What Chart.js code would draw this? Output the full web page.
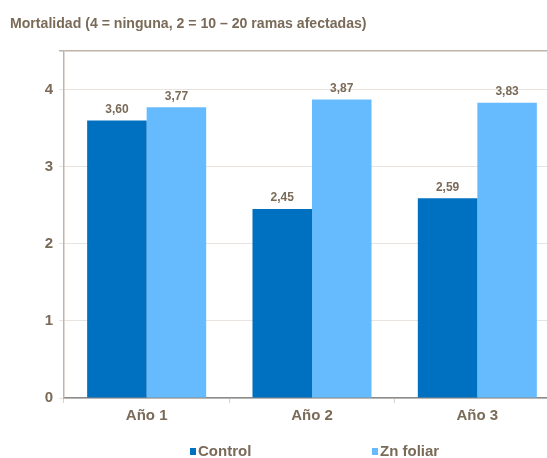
<!DOCTYPE html>
<html><head><meta charset="utf-8">
<script src="https://cdn.jsdelivr.net/npm/chart.js@4"></script>
<style>
html,body{margin:0;padding:0;background:#fff;overflow:hidden;width:547px;height:458px}
#wrap{position:absolute;left:0;top:0;width:560px;height:458px}
</style></head><body>
<div id="wrap"><canvas id="c" width="560" height="458"></canvas></div>
<script>
const title = 'Mortalidad (4 = ninguna, 2 = 10 – 20 ramas afectadas)';
const categories = ['Año 1', 'Año 2', 'Año 3'];
const seriesNames = ['Control', 'Zn foliar'];
const controlValues = [3.60, 2.45, 2.59];
const znValues = [3.77, 3.87, 3.83];
const yTicks = [0, 1, 2, 3, 4];

const FONT = '"Liberation Sans Narrow", "Arial Narrow", "Liberation Sans", Arial, sans-serif';
const TXT = '#7a6a58';
const colors = ['#0070c0', '#66bbff'];

const extras = {
  id: 'extras',
  afterDatasetsDraw(chart) {
    const ctx = chart.ctx;
    ctx.save();
    ctx.fillStyle = TXT;
    ctx.font = 'bold 12px ' + FONT;
    ctx.textAlign = 'center';
    ctx.textBaseline = 'bottom';
    chart.data.datasets.forEach((ds, i) => {
      chart.getDatasetMeta(i).data.forEach((bar, j) => {
        ctx.fillText(ds.data[j].toFixed(2).replace('.', ','), bar.x, bar.y - 5);
      });
    });
    // title (slightly condensed)
    ctx.save();
    ctx.font = 'bold 15px ' + FONT;
    ctx.textAlign = 'left';
    ctx.textBaseline = 'middle';
    ctx.translate(10, 24);
    ctx.scale(0.94, 1);
    ctx.fillText(title, 0, 0);
    ctx.restore();
    // legend
    ctx.font = 'bold 15px ' + FONT;
    ctx.textAlign = 'left';
    const lx = [190, 372];
    seriesNames.forEach((n, i) => {
      ctx.fillStyle = colors[i];
      ctx.fillRect(lx[i], 448, 6, 7);
      ctx.fillStyle = TXT;
      ctx.textBaseline = 'middle';
      ctx.fillText(n, lx[i] + 8, 452);
    });
    ctx.restore();
  }
};

new Chart(document.getElementById('c'), {
  type: 'bar',
  data: {
    labels: categories,
    datasets: [
      { label: seriesNames[0], data: controlValues, backgroundColor: colors[0] },
      { label: seriesNames[1], data: znValues, backgroundColor: colors[1] }
    ]
  },
  options: {
    responsive: false,
    animation: false,
    devicePixelRatio: 1,
    layout: { padding: { top: 51, left: 0, right: 0, bottom: 20 } },
    plugins: { legend: { display: false }, title: { display: false }, tooltip: { enabled: false } },
    datasets: { bar: { categoryPercentage: 0.72, barPercentage: 1.0 } },
    scales: {
      x: {
        offset: true,
        grid: { offset: true, drawOnChartArea: false, color: '#d8d2cb', tickLength: 5 },
        border: { color: '#8a8a8a', width: 1.5 },
        ticks: { color: TXT, font: { family: FONT, size: 15, weight: 'bold' }, padding: 4 },
        afterFit(s) { s.height = 40; }
      },
      y: {
        min: 0, max: 4.5,
        afterBuildTicks(s) { s.ticks = yTicks.map(v => ({ value: v })).concat([{ value: 4.5 }]); },
        grid: {
          color: ctx => ctx.tick && ctx.tick.value === 4.5 ? '#bdb4aa' : '#e8e3de',
          lineWidth: ctx => ctx.tick && ctx.tick.value === 4.5 ? 1.5 : 1,
          tickLength: 5
        },
        border: { color: '#bdb4aa', width: 1.5 },
        ticks: {
          color: TXT, font: { family: FONT, size: 15, weight: 'bold' }, padding: 6,
          callback: v => (yTicks.includes(v) ? String(v) : '')
        },
        afterFit(s) { s.width = 64; }
      }
    }
  },
  plugins: [extras]
});
</script>
</body></html>
